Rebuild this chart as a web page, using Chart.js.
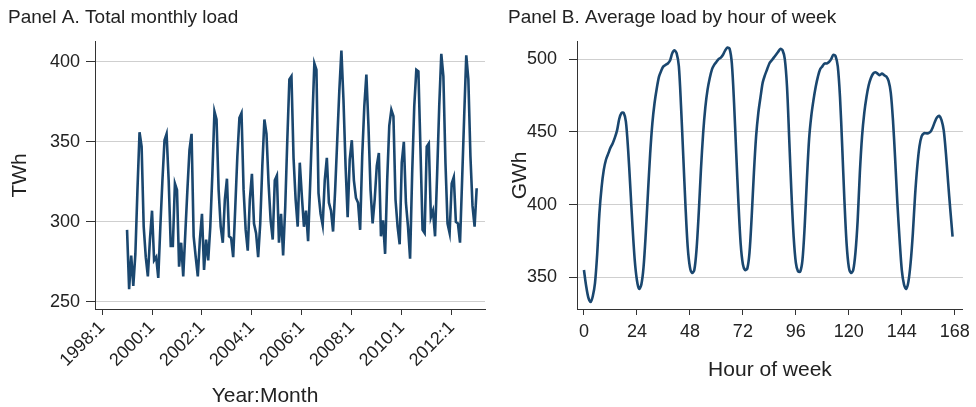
<!DOCTYPE html>
<html>
<head>
<meta charset="utf-8">
<script src="https://cdn.jsdelivr.net/npm/chart.js@4.4.1/dist/chart.umd.min.js"></script>
<style>
  html, body { margin: 0; padding: 0; background: #fff; }
  #wrap { position: relative; width: 976px; height: 407px; }
  .panel { position: absolute; top: 0; }
</style>
</head>
<body>
<div id="wrap">
  <div class="panel" style="left:0px"><canvas id="panelA" width="490" height="407"></canvas></div>
  <div class="panel" style="left:490px"><canvas id="panelB" width="486" height="407"></canvas></div>
</div>
<script>
// Panel A: total monthly load (TWh), monthly from 1999:1, month index counted from 1998:1
var firstMonth = 12;
var monthlyLoad = [
  295, 258, 279, 260, 280, 320, 356, 347, 297, 278, 266, 289,
  307, 276, 278, 265, 297, 326, 351, 355, 326, 285, 285, 324,
  320, 272, 287, 266, 293, 320, 345, 355, 291, 278, 266, 289,
  305, 270, 289, 276, 297, 330, 369, 364, 320, 297, 287, 314,
  327, 291, 290, 278, 309, 341, 365, 368, 320, 295, 282, 314,
  330, 299, 293, 278, 299, 335, 364, 355, 324, 301, 289, 326,
  329, 287, 305, 279, 309, 351, 389, 391, 340, 314, 297, 337,
  316, 297, 307, 288, 324, 362, 399, 395, 318, 305, 298, 326,
  340, 312, 307, 294, 320, 351, 382, 407, 376, 335, 303, 339,
  351, 326, 315, 312, 295, 341, 372, 392, 360, 320, 299, 314,
  335, 343, 291, 301, 280, 326, 360, 370, 366, 314, 297, 286,
  337, 350, 312, 297, 277, 330, 372, 395, 394, 345, 295, 293,
  347, 349, 303, 307, 291, 330, 372, 405, 391, 337, 299, 293,
  324, 328, 300, 299, 287, 326, 366, 404, 389, 341, 310, 297,
  321
];
var monthTicks = [0, 24, 48, 72, 96, 120, 144, 168];
var monthTickLabels = ["1998:1", "2000:1", "2002:1", "2004:1", "2006:1", "2008:1", "2010:1", "2012:1"];
var twhTicks = [250, 300, 350, 400];

// Panel B: average load (GWh) by hour of week, hours 0..167
var hourlyLoad = [
  355, 344, 336, 333, 337, 346, 366, 394, 412, 424, 431, 435, 439, 442, 446, 451, 459, 463, 463, 457, 438, 412, 385, 362,
  348, 342, 345, 357, 380, 408, 435, 456, 470, 480, 488, 492, 495, 496, 497, 499, 504, 506, 504, 495, 467, 433, 399, 371,
  357, 353, 355, 369, 394, 424, 449, 467, 479, 487, 493, 496, 498, 500, 501, 503, 506, 508, 507, 497, 470, 435, 401, 373,
  359, 355, 356, 367, 392, 422, 447, 463, 474, 484, 489, 493, 497, 499, 501, 503, 505, 507, 506, 500, 481, 445, 408, 378,
  360, 354, 354, 362, 385, 417, 445, 461, 472, 481, 488, 493, 495, 497, 497, 498, 500, 503, 502, 495, 474, 440, 403, 373,
  357, 353, 355, 367, 389, 422, 447, 463, 474, 482, 487, 490, 491, 490, 489, 490, 489, 488, 485, 477, 458, 431, 401, 376,
  355, 345, 342, 347, 360, 380, 406, 426, 440, 447, 449, 449, 449, 450, 453, 457, 460, 461, 458, 451, 435, 415, 396, 378
];
var hourTicks = [0, 24, 48, 72, 96, 120, 144, 168];
var gwhTicks = [350, 400, 450, 500];

var lineColor = "#1a476f";
var textColor = "#222222";
var gridColor = "#cfcfcf";
var fontFamily = "'Liberation Sans', Arial, Helvetica, sans-serif";

function fixedTicks(list){
  return function(scale){
    scale.ticks = list.map(function(v){ return {value: v}; });
  };
}

// x axis title drawn by hand so it can sit off the plot centre (as in panel A)
var xTitlePlugin = {
  id: 'xTitle',
  afterDraw: function(chart, args, opts){
    var ca = chart.chartArea;
    var x = (opts.x != null) ? opts.x : (ca.left + ca.right) / 2;
    var ctx = chart.ctx;
    ctx.save();
    ctx.font = '21px ' + fontFamily;
    ctx.fillStyle = textColor;
    ctx.textAlign = 'center';
    ctx.textBaseline = 'middle';
    ctx.fillText(opts.text, x, opts.y);
    ctx.restore();
  }
};

function makePanel(canvasID, cfg){
  var points = cfg.values.map(function(v, i){ return {x: cfg.x0 + i, y: v}; });
  return new Chart(document.getElementById(canvasID), {
    type: 'line',
    data: {
      datasets: [{
        data: points,
        borderColor: lineColor,
        borderWidth: 2.6,
        pointRadius: 0,
        tension: cfg.tension,
        fill: false
      }]
    },
    plugins: [xTitlePlugin],
    options: {
      responsive: false,
      animation: false,
      layout: { padding: { left: cfg.padLeft, right: cfg.padRight, top: 0, bottom: 0 } },
      plugins: {
        legend: { display: false },
        tooltip: { enabled: false },
        title: {
          display: true,
          text: cfg.title,
          align: 'start',
          color: textColor,
          font: { family: fontFamily, size: 19, weight: 'normal' },
          padding: { top: 6, bottom: 13 }
        },
        xTitle: { text: cfg.xTitle, x: cfg.xTitleX, y: cfg.xTitleY }
      },
      scales: {
        x: {
          type: 'linear',
          min: cfg.xMin,
          max: cfg.xMax,
          afterBuildTicks: fixedTicks(cfg.xTicks),
          afterFit: function(s){ s.height = 98; },
          grid: { drawOnChartArea: false, tickLength: 6, tickColor: '#333', tickWidth: 1 },
          border: { color: '#333', width: 1 },
          ticks: {
            autoSkip: false,
            color: textColor,
            font: { family: fontFamily, size: 18 },
            padding: cfg.xTickPad,
            minRotation: cfg.xRotation,
            maxRotation: cfg.xRotation,
            callback: cfg.xLabel
          },
          title: { display: false }
        },
        y: {
          type: 'linear',
          min: cfg.yMin,
          max: cfg.yMax,
          afterBuildTicks: fixedTicks(cfg.yTicks),
          afterFit: function(s){ s.width = cfg.yWidth; },
          grid: { color: gridColor, lineWidth: 1, tickLength: cfg.yTickLen, tickColor: '#333', tickWidth: 1 },
          border: { color: '#333', width: 1 },
          ticks: {
            color: textColor,
            font: { family: fontFamily, size: 18 },
            padding: cfg.yTickPad
          },
          title: {
            display: true,
            text: cfg.yTitle,
            color: textColor,
            font: { family: fontFamily, size: 21 },
            padding: { top: 0, bottom: 0 }
          }
        }
      }
    }
  });
}

makePanel('panelA', {
  title: 'Panel A. Total monthly load',
  values: monthlyLoad, x0: firstMonth, tension: 0,
  padLeft: 8, padRight: 5, yWidth: 87,
  xMin: -3.4, xMax: 184, xTicks: monthTicks,
  xLabel: function(v){ return monthTickLabels[monthTicks.indexOf(v)]; },
  xRotation: 45, xTickPad: 2, xTitle: 'Year:Month', xTitleX: 265, xTitleY: 396,
  yMin: 245.6, yMax: 412.5, yTicks: twhTicks, yTickLen: 9, yTickPad: 6, yTitle: 'TWh'
});

makePanel('panelB', {
  title: 'Panel B. Average load by hour of week',
  values: hourlyLoad, x0: 0, tension: 0.3,
  padLeft: 18, padRight: 10, yWidth: 69,
  xMin: -3.15, xMax: 171.7, xTicks: hourTicks,
  xLabel: function(v){ return String(v); },
  xRotation: 0, xTickPad: 6, xTitle: 'Hour of week', xTitleX: null, xTitleY: 370,
  yMin: 328.2, yMax: 511.9, yTicks: gwhTicks, yTickLen: 8, yTickPad: 12, yTitle: 'GWh'
});
</script>
</body>
</html>
